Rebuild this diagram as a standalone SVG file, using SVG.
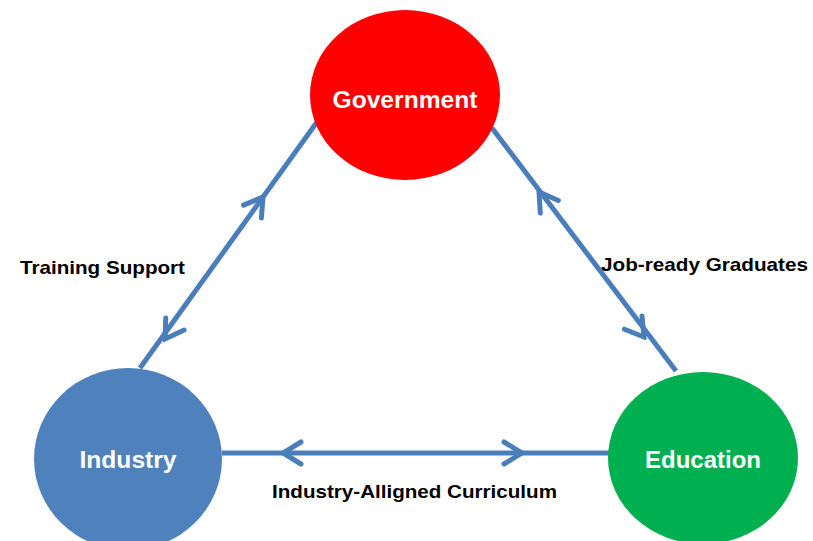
<svg xmlns="http://www.w3.org/2000/svg" width="813" height="541" viewBox="0 0 813 541">
<defs>
<style>
.node-label{font-family:"Liberation Sans",Arial,sans-serif;font-weight:bold;font-size:23px;fill:#fff;text-anchor:middle}
.edge-label{font-family:"Liberation Sans",Arial,sans-serif;font-weight:bold;font-size:18.5px;fill:#000}
.conn{stroke:#4A7EBB;stroke-width:5;fill:none;stroke-linecap:butt}
.head{stroke:none;fill:none}
</style>
<marker id="chev" viewBox="0 0 24 28" refX="21" refY="14" markerWidth="24" markerHeight="28" markerUnits="userSpaceOnUse" orient="auto">
<path d="M3,3 L21,14 L3,25" stroke="#4A7EBB" stroke-width="5" fill="none" stroke-linecap="round" stroke-linejoin="miter"/>
</marker>
</defs>
<rect width="813" height="541" fill="#fff"/>
<g id="connectors">
<line class="conn" x1="140" y1="368" x2="317" y2="122"/>
<path class="head" d="M214,265 L263,197" marker-end="url(#chev)"/>
<path class="head" d="M214,265 L165,339" marker-end="url(#chev)"/>
<line class="conn" x1="492" y1="128" x2="676" y2="371"/>
<path class="head" d="M590,265 L539,192" marker-end="url(#chev)"/>
<path class="head" d="M590,265 L644,337" marker-end="url(#chev)"/>
<line class="conn" x1="222" y1="453" x2="610" y2="453"/>
<path class="head" d="M400,453 L283,453" marker-end="url(#chev)"/>
<path class="head" d="M400,453 L522,453" marker-end="url(#chev)"/>
</g>
<g id="government">
<ellipse cx="405" cy="95" rx="95" ry="85" fill="#FF0000"/>
<text class="node-label" x="405" y="108" textLength="145" lengthAdjust="spacingAndGlyphs">Government</text>
</g>
<g id="industry">
<ellipse cx="128" cy="459" rx="94" ry="91" fill="#4F81BD"/>
<text class="node-label" x="128" y="468" textLength="97" lengthAdjust="spacingAndGlyphs">Industry</text>
</g>
<g id="education">
<ellipse cx="703" cy="458" rx="95" ry="86" fill="#00B050"/>
<text class="node-label" x="703" y="468" textLength="116" lengthAdjust="spacingAndGlyphs">Education</text>
</g>
<g id="labels">
<text class="edge-label" x="20" y="274" textLength="165" lengthAdjust="spacingAndGlyphs">Training Support</text>
<text class="edge-label" x="601" y="271" textLength="207" lengthAdjust="spacingAndGlyphs">Job-ready Graduates</text>
<text class="edge-label" x="272" y="498" textLength="285" lengthAdjust="spacingAndGlyphs">Industry-Alligned Curriculum</text>
</g>
</svg>
